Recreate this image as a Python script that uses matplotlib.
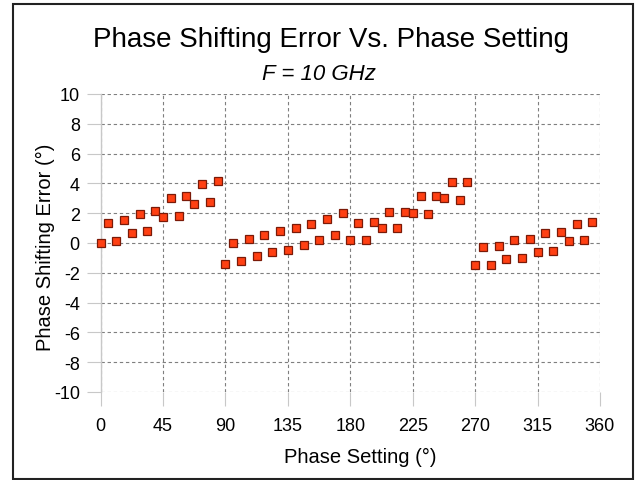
import matplotlib.pyplot as plt
from matplotlib.patches import Rectangle

plt.rcParams['font.family'] = ['Liberation Sans', 'DejaVu Sans']
plt.rcParams['axes.unicode_minus'] = False

# phase setting (deg), 6-bit steps
phase = [0, 5.625, 11.25, 16.875, 22.5, 28.125, 33.75, 39.375,
         45, 50.625, 56.25, 61.875, 67.5, 73.125, 78.75, 84.375,
         90, 95.625, 101.25, 106.875, 112.5, 118.125, 123.75, 129.375,
         135, 140.625, 146.25, 151.875, 157.5, 163.125, 168.75, 174.375,
         180, 185.625, 191.25, 196.875, 202.5, 208.125, 213.75, 219.375,
         225, 230.625, 236.25, 241.875, 247.5, 253.125, 258.75, 264.375,
         270, 275.625, 281.25, 286.875, 292.5, 298.125, 303.75, 309.375,
         315, 320.625, 326.25, 331.875, 337.5, 343.125, 348.75, 354.375]

# phase shifting error (deg)
error = [0.0, 1.32, 0.15, 1.57, 0.69, 1.97, 0.81, 2.17,
         1.73, 3.0, 1.79, 3.16, 2.65, 3.97, 2.76, 4.15,
         -1.41, 0.02, -1.19, 0.27, -0.90, 0.54, -0.63, 0.78,
         -0.45, 1.03, -0.13, 1.30, 0.22, 1.64, 0.56, 1.99,
         0.22, 1.37, 0.18, 1.39, 1.01, 2.06, 0.99, 2.11,
         2.02, 3.14, 1.97, 3.14, 3.05, 4.06, 2.89, 4.10,
         -1.48, -0.27, -1.48, -0.23, -1.06, 0.20, -1.01, 0.27,
         -0.61, 0.65, -0.54, 0.76, 0.11, 1.30, 0.18, 1.39]

xticks = [0, 45, 90, 135, 180, 225, 270, 315, 360]
yticks = [-10, -8, -6, -4, -2, 0, 2, 4, 6, 8, 10]

fig = plt.figure(figsize=(6.36, 4.81), dpi=100)
ax = fig.add_axes([0.1583, 0.183, 0.785, 0.6195])

ax.plot(phase, error, linestyle='none', marker='s', markersize=6,
        markerfacecolor='#ff4013', markeredgecolor='#7a1a08', markeredgewidth=0.9,
        zorder=3, clip_on=False)

ax.set_xlim(0, 360)
ax.set_ylim(-10, 10)
ax.set_xticks(xticks)
ax.set_yticks(yticks)
ax.grid(True, linestyle=(0, (3, 2.5)), color='#7f7f7f', linewidth=0.8)
ax.set_axisbelow(True)

for s in ['top', 'right', 'bottom']:
    ax.spines[s].set_visible(False)
ax.spines['left'].set_color('#c8c8c8')
ax.spines['left'].set_linewidth(1.0)
ax.tick_params(axis='both', direction='out', length=10, color='#c8c8c8',
               labelsize=13, pad=5)
ax.tick_params(axis='x', pad=8)

ax.set_xlabel('Phase Setting (°)', fontsize=14.5, labelpad=9)
ax.xaxis.label.set_x(0.519)
ax.set_ylabel('Phase Shifting Error (°)', fontsize=14.5)
ax.yaxis.set_label_coords(-0.092, 0.49)

fig.text(0.521, 1 - 46.7 / 481, 'Phase Shifting Error Vs. Phase Setting',
         ha='center', va='baseline', fontsize=20)
fig.text(0.502, 1 - 80 / 481, 'F = 10 GHz', ha='center', va='baseline',
         fontsize=16, style='italic')

fig.patches.append(Rectangle((13 / 636, 1 / 481), 620 / 636, 475 / 481,
                             transform=fig.transFigure, fill=False,
                             edgecolor='#222222', linewidth=1.5))

fig.savefig('out.png', dpi=100)
